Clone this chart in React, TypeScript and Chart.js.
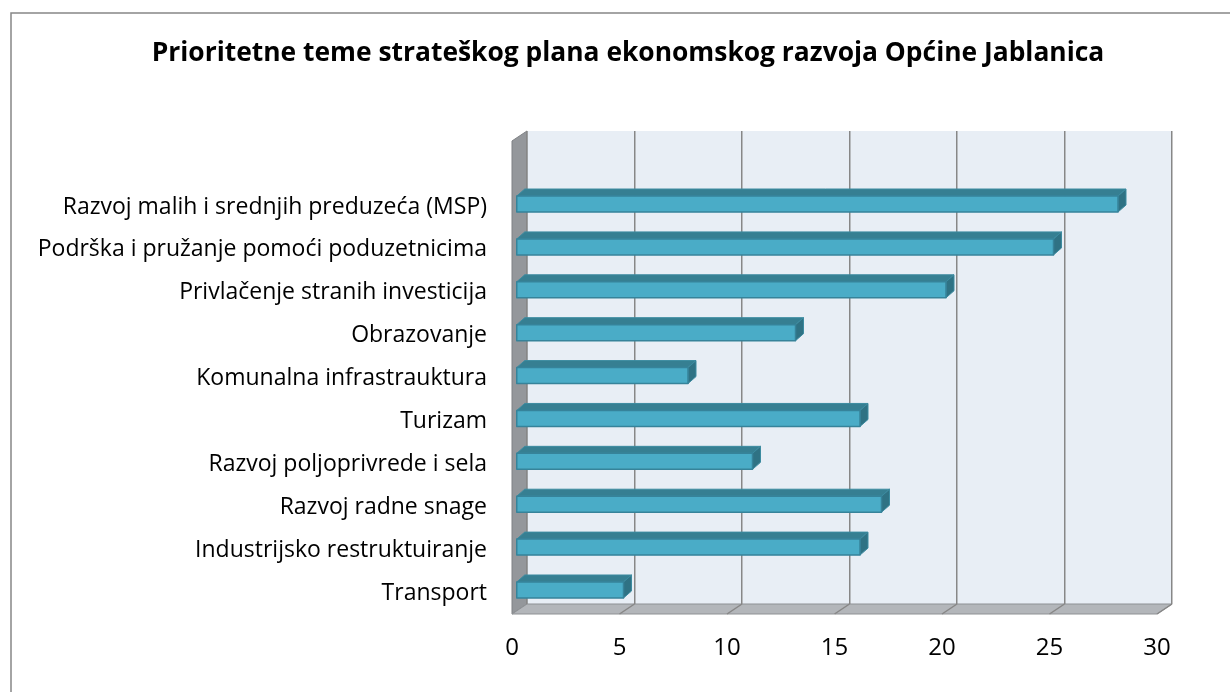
import React, { useEffect, useRef } from "react";
import { Chart, registerables } from "chart.js";

Chart.register(...registerables);

const TITLE = "Prioritetne teme strateškog plana ekonomskog razvoja Općine Jablanica";
const categories = [
  "Razvoj malih i srednjih preduzeća (MSP)",
  "Podrška i pružanje pomoći poduzetnicima",
  "Privlačenje stranih investicija",
  "Obrazovanje",
  "Komunalna infrastrauktura",
  "Turizam",
  "Razvoj poljoprivrede i sela",
  "Razvoj radne snage",
  "Industrijsko restruktuiranje",
  "Transport",
];
const values = [28, 25, 20, 13, 8, 16, 11, 17, 16, 5];
const xTicks = [0, 5, 10, 15, 20, 25, 30];

const FONT = "'Open Sans', Lato, sans-serif";
// 3D geometry (pixels)
const WALL_DX = -15;
const WALL_DY = 10;
const BAR_FX = -11;
const BAR_FY = 4;
const BAR_DX = 8;
const BAR_DY = -7;
const PAD_LEFT = 84;
const AXIS_RIGHT = 527;

const threeD = {
  id: "threeD",
  afterLayout(chart: any) {
    // let the long category labels extend into the left padding without clipping
    if (chart.scales.y) chart.scales.y.left = 0;
  },
  beforeDraw(chart: any) {
    const { ctx, chartArea: a, width, height } = chart;
    ctx.save();
    ctx.fillStyle = "#ffffff";
    ctx.fillRect(0, 0, width, height);
    // frame
    ctx.strokeStyle = "#878787";
    ctx.lineWidth = 1.5;
    ctx.strokeRect(11, 13, width + 20, height + 20);
    // back wall
    ctx.fillStyle = "#E8EEF5";
    ctx.fillRect(a.left, a.top, a.right - a.left, a.bottom - a.top);
    // left wall
    ctx.beginPath();
    ctx.moveTo(a.left, a.top);
    ctx.lineTo(a.left, a.bottom);
    ctx.lineTo(a.left + WALL_DX, a.bottom + WALL_DY);
    ctx.lineTo(a.left + WALL_DX, a.top + WALL_DY);
    ctx.closePath();
    ctx.fillStyle = "#94979B";
    ctx.fill();
    ctx.strokeStyle = "#7E8185";
    ctx.lineWidth = 1;
    ctx.stroke();
    // floor
    ctx.beginPath();
    ctx.moveTo(a.left, a.bottom);
    ctx.lineTo(a.right, a.bottom);
    ctx.lineTo(a.right + WALL_DX, a.bottom + WALL_DY);
    ctx.lineTo(a.left + WALL_DX, a.bottom + WALL_DY);
    ctx.closePath();
    ctx.fillStyle = "#B3B6BA";
    ctx.fill();
    ctx.strokeStyle = "#8E9194";
    ctx.stroke();
    ctx.restore();
  },
  beforeDatasetsDraw(chart: any) {
    const { ctx, chartArea: a, scales } = chart;
    ctx.save();
    ctx.strokeStyle = "#878787";
    ctx.lineWidth = 1.5;
    xTicks.forEach((v) => {
      const x = scales.x.getPixelForValue(v);
      if (v === 0) return;
      ctx.beginPath();
      ctx.moveTo(x, a.bottom);
      ctx.lineTo(x + WALL_DX, a.bottom + WALL_DY);
      ctx.stroke();
    });
    ctx.restore();
  },
  afterDatasetsDraw(chart: any) {
    const { ctx } = chart;
    const meta = chart.getDatasetMeta(0);
    ctx.save();
    ctx.lineJoin = "round";
    meta.data.forEach((el: any) => {
      const p = el.getProps(["x", "y", "base", "height"], true);
      const left = p.base + BAR_FX;
      const right = p.x + BAR_FX;
      const top = p.y - p.height / 2 + BAR_FY;
      const bottom = top + p.height;
      // top face
      ctx.beginPath();
      ctx.moveTo(left, top);
      ctx.lineTo(right, top);
      ctx.lineTo(right + BAR_DX, top + BAR_DY);
      ctx.lineTo(left + BAR_DX, top + BAR_DY);
      ctx.closePath();
      ctx.fillStyle = "#367F92";
      ctx.fill();
      ctx.strokeStyle = "#3C8BA0";
      ctx.lineWidth = 1;
      ctx.stroke();
      // side face
      ctx.beginPath();
      ctx.moveTo(right, top);
      ctx.lineTo(right + BAR_DX, top + BAR_DY);
      ctx.lineTo(right + BAR_DX, bottom + BAR_DY);
      ctx.lineTo(right, bottom);
      ctx.closePath();
      ctx.fillStyle = "#2F7284";
      ctx.fill();
      ctx.strokeStyle = "#3C8BA0";
      ctx.stroke();
      // front face
      ctx.fillStyle = "#4AACC7";
      ctx.fillRect(left, top, right - left, bottom - top);
      ctx.strokeStyle = "#36839A";
      ctx.lineWidth = 1.5;
      ctx.strokeRect(left, top, right - left, bottom - top);
    });
    ctx.restore();
  },
};

export default function App() {
  const ref = useRef<HTMLCanvasElement>(null);
  useEffect(() => {
    const canvas = ref.current;
    if (!canvas) return;
    const chart = new Chart(canvas, {
      type: "bar",
      data: {
        datasets: [
          {
            data: values.map((v, i) => ({ x: v, y: i })),
            backgroundColor: "rgba(0,0,0,0)",
            borderWidth: 0,
            barThickness: 16,
          },
        ],
      },
      options: {
        indexAxis: "y",
        animation: false,
        responsive: false,
        maintainAspectRatio: false,
        layout: { padding: { left: PAD_LEFT, right: 58, top: 0, bottom: 0 } },
        plugins: {
          legend: { display: false },
          tooltip: { enabled: false },
          title: {
            display: true,
            text: TITLE,
            color: "#000000",
            font: { family: FONT, size: 26.4, weight: "bold", lineHeight: 1.2 },
            padding: { top: 38, bottom: 61.3 },
          },
        },
        scales: {
          x: {
            type: "linear",
            min: 0,
            max: 30,
            offset: false,
            afterBuildTicks: (s: any) => {
              s.ticks = xTicks.map((v) => ({ value: v }));
            },
            afterFit: (s: any) => {
              s.height = 88;
            },
            border: { display: false },
            grid: { color: "#878787", lineWidth: 1.5, drawTicks: false, offset: false },
            ticks: {
              color: "#000000",
              font: { family: FONT, size: 24 },
              padding: 30,
              labelOffset: -15,
              maxRotation: 0,
            },
          },
          y: {
            type: "linear",
            reverse: true,
            offset: false,
            min: -1.61,
            max: 9.42,
            afterBuildTicks: (s: any) => {
              s.ticks = categories.map((_, i) => ({ value: i }));
            },
            afterFit: (s: any) => {
              s.width = AXIS_RIGHT - PAD_LEFT;
            },
            border: { display: false },
            grid: { display: false, drawTicks: false, offset: false },
            ticks: {
              color: "#000000",
              font: { family: FONT, size: 23 },
              padding: 40,
              labelOffset: 7,
              autoSkip: false,
              callback: (v: any) => categories[v as number] ?? "",
            },
          },
        },
      },
      plugins: [threeD],
    });
    return () => chart.destroy();
  }, []);
  return (
    <div style={{ position: "fixed", left: 0, top: 0, width: 1230, height: 692 }}>
      <canvas ref={ref} width={1230} height={692} style={{ width: 1230, height: 692, display: "block" }} />
    </div>
  );
}
